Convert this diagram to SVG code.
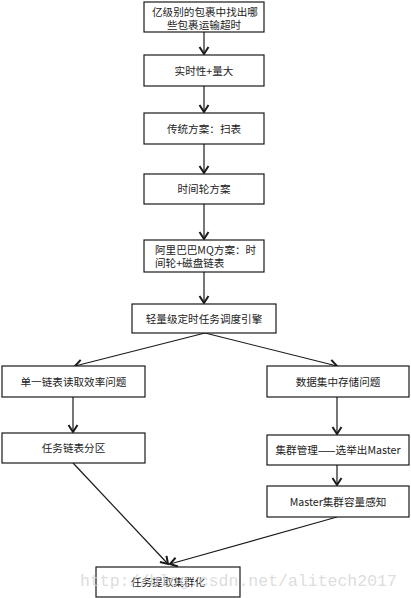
<svg xmlns="http://www.w3.org/2000/svg" width="411" height="598" viewBox="0 0 411 598">
<style>
.box{fill:#fff;stroke:#1a1a1a;stroke-width:1.2}
.t{font-family:"Noto Sans CJK SC","Liberation Sans",sans-serif;font-size:10.6px;fill:#222;text-anchor:middle}
.s{text-anchor:start}
.ln{fill:none;stroke:#1a1a1a;stroke-width:1.2}
.wm{font-family:"Liberation Mono","DejaVu Sans Mono",monospace;font-size:16.5px;fill:#d4d4d4;fill-opacity:0.8}
</style>
<defs>
<marker id="ah" viewBox="0 0 12 12" refX="10" refY="6" markerWidth="12" markerHeight="12" markerUnits="userSpaceOnUse" orient="auto">
<path d="M3,1.5 L10,6 L3,10.5" fill="none" stroke="#1a1a1a" stroke-width="2"/>
</marker>
</defs>
<rect width="411" height="598" fill="#fff"/>
<g id="connectors">
<line class="ln" x1="204" y1="32" x2="204" y2="54" marker-end="url(#ah)"/>
<line class="ln" x1="204" y1="86" x2="204" y2="112" marker-end="url(#ah)"/>
<line class="ln" x1="204" y1="144" x2="204" y2="173" marker-end="url(#ah)"/>
<line class="ln" x1="204" y1="204" x2="204" y2="239" marker-end="url(#ah)"/>
<line class="ln" x1="204" y1="272" x2="204" y2="303" marker-end="url(#ah)"/>
<line class="ln" x1="205" y1="333" x2="75" y2="366" marker-end="url(#ah)"/>
<line class="ln" x1="205" y1="333" x2="337" y2="366" marker-end="url(#ah)"/>
<line class="ln" x1="73" y1="397" x2="73" y2="432" marker-end="url(#ah)"/>
<line class="ln" x1="337" y1="397" x2="337" y2="434" marker-end="url(#ah)"/>
<line class="ln" x1="337" y1="465" x2="337" y2="485" marker-end="url(#ah)"/>
<line class="ln" x1="73" y1="463" x2="168" y2="564" marker-end="url(#ah)"/>
<line class="ln" x1="337" y1="517" x2="170" y2="564" marker-end="url(#ah)"/>
</g>
<g id="n1"><rect class="box" x="144" y="2" width="120" height="30"/><text class="t"><tspan x="205" y="15.5">亿级别的包裹中找出哪</tspan><tspan x="204" y="28.5">些包裹运输超时</tspan></text></g>
<g id="n2"><rect class="box" x="144" y="55" width="120" height="31"/><text class="t" x="204" y="74.5">实时性+量大</text></g>
<g id="n3"><rect class="box" x="144" y="113" width="120" height="31"/><text class="t" x="204" y="132.5">传统方案：扫表</text></g>
<g id="n4"><rect class="box" x="144" y="174" width="120" height="30"/><text class="t" x="204" y="193">时间轮方案</text></g>
<g id="n5"><rect class="box" x="144" y="240" width="120" height="32"/><text class="t s"><tspan x="155" y="253.5">阿里巴巴MQ方案：时</tspan><tspan x="155" y="266.8">间轮+磁盘链表</tspan></text></g>
<g id="n6"><rect class="box" x="132" y="304" width="144" height="29"/><text class="t" x="204" y="322.5">轻量级定时任务调度引擎</text></g>
<g id="n7"><rect class="box" x="2" y="366" width="143" height="31"/><text class="t" x="73.5" y="385.5">单一链表读取效率问题</text></g>
<g id="n8"><rect class="box" x="2" y="433" width="143" height="30"/><text class="t" x="73.5" y="452">任务链表分区</text></g>
<g id="n9"><rect class="box" x="267" y="366" width="142" height="31"/><text class="t" x="338" y="385.5">数据集中存储问题</text></g>
<g id="n10"><rect class="box" x="267" y="435" width="142" height="30"/><text class="t" x="338" y="454">集群管理——选举出Master</text></g>
<g id="n11"><rect class="box" x="267" y="486" width="142" height="31"/><text class="t" x="338" y="505.5">Master集群容量感知</text></g>
<g id="n12"><rect class="box" x="96" y="567" width="144" height="30"/><text class="t" x="168" y="586">任务提取集群化</text></g>
<text class="wm" x="80" y="586">http://blog.csdn.net/alitech2017</text>
</svg>
